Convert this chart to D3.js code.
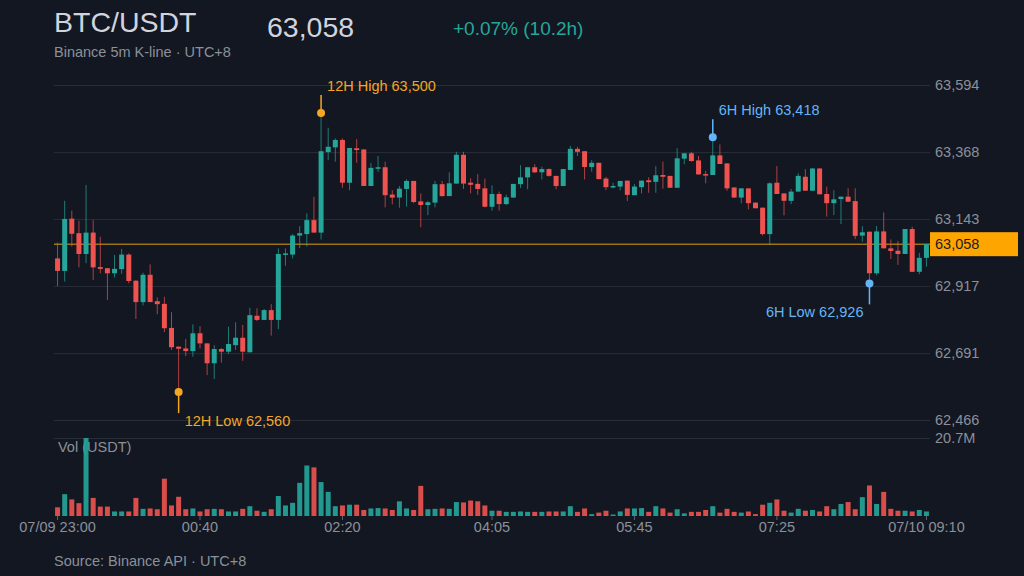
<!DOCTYPE html>
<html>
<head>
<meta charset="utf-8">
<script src="https://cdn.jsdelivr.net/npm/d3@7"></script>
<style>
  body { margin: 0; background: #131722; }
  svg text { font-family: "Liberation Sans", Arial, sans-serif; }
</style>
</head>
<body>
<div id="chart"></div>
<script>
var WD = 1024, HT = 576

// 5m candles, 07/09 23:00 -> 07/10 09:10 (UTC+8)
var open = [63010,62968,63144,63095,63025,63097,62981,62977,62960,62974,
  63023,62935,62863,62955,62866,62857,62776,62713,62707,62698,
  62758,62724,62657,62705,62696,62718,62743,62694,62817,62803,
  62836,62803,63022,63023,63087,63092,63139,63097,63368,63384,
  63409,63265,63381,63377,63254,63312,63317,63225,63215,63244,
  63271,63202,63190,63198,63260,63220,63262,63359,63265,63261,
  63246,63184,63227,63193,63215,63260,63283,63317,63300,63311,
  63288,63254,63308,63379,63371,63318,63332,63279,63250,63252,
  63272,63223,63250,63273,63268,63291,63288,63248,63346,63364,
  63340,63294,63291,63357,63330,63249,63215,63246,63198,63181,
  63092,63265,63229,63204,63235,63285,63238,63313,63227,63196,
  63210,63218,63203,63087,63100,62960,63101,63044,63036,63025,
  63109,62965,63012]
var high = [63063,63204,63171,63137,63257,63139,63083,62978,63022,63042,
  63027,62937,62962,62990,62879,62881,62829,62713,62739,62788,
  62782,62724,62718,62708,62780,62795,62786,62844,62842,62840,
  62856,63044,63044,63092,63119,63162,63218,63500,63450,63414,
  63414,63382,63412,63377,63332,63355,63336,63240,63254,63276,
  63271,63229,63203,63271,63271,63300,63369,63369,63280,63294,
  63279,63256,63235,63225,63261,63324,63317,63327,63319,63313,
  63288,63311,63389,63386,63371,63341,63332,63285,63265,63271,
  63272,63261,63272,63283,63321,63336,63288,63381,63364,63369,
  63355,63305,63418,63394,63330,63249,63246,63246,63198,63181,
  63266,63321,63229,63244,63297,63311,63313,63313,63252,63240,
  63218,63246,63246,63119,63100,63119,63165,63074,63069,63109,
  63117,63029,63058]
var low = [62917,62932,63050,62980,62994,62937,62960,62870,62946,62958,
  62926,62806,62852,62863,62822,62762,62702,62560,62681,62679,
  62707,62617,62604,62659,62688,62702,62665,62694,62799,62803,
  62750,62772,62985,63010,63045,63050,63097,63074,63341,63336,
  63248,63240,63332,63254,63254,63301,63182,63192,63181,63184,
  63196,63115,63156,63182,63218,63220,63262,63244,63229,63224,
  63182,63171,63171,63190,63215,63247,63243,63297,63276,63285,
  63243,63254,63308,63355,63276,63302,63277,63240,63246,63239,
  63203,63223,63229,63231,63231,63245,63248,63248,63327,63336,
  63292,63263,63291,63328,63238,63215,63196,63175,63179,63087,
  63055,63227,63155,63193,63235,63238,63238,63226,63151,63156,
  63126,63201,63075,63066,62926,62953,63044,63008,62988,63025,
  62965,62957,62982]
var close = [62968,63143,63093,63025,63097,62980,62975,62960,62975,63023,
  62934,62863,62955,62863,62856,62775,62711,62706,62698,62758,
  62724,62657,62705,62696,62722,62743,62696,62819,62803,62836,
  62803,63025,63027,63087,63095,63139,63097,63371,63386,63409,
  63265,63382,63375,63254,63315,63317,63223,63215,63245,63271,
  63200,63190,63199,63260,63220,63263,63359,63262,63258,63244,
  63184,63227,63193,63216,63261,63283,63317,63300,63311,63288,
  63254,63311,63379,63369,63318,63332,63277,63250,63254,63271,
  63224,63252,63272,63267,63290,63285,63248,63347,63364,63338,
  63293,63290,63357,63328,63246,63215,63246,63196,63179,63092,
  63263,63227,63204,63235,63288,63238,63313,63226,63196,63209,
  63218,63201,63086,63098,62960,63101,63044,63035,63025,63109,
  62965,63012,63058]
// volume in millions of USDT
var volume = [2.3,5.8,4.4,3.4,20.7,4.8,2.5,2.5,1.2,1.2,
  1.2,4.8,1.9,2.0,1.8,9.9,2.8,5.1,1.8,2.0,
  1.2,1.8,1.9,1.8,1.2,1.2,1.9,2.6,1.4,1.1,
  1.8,5.3,2.8,3.5,8.8,13.4,12.9,9.0,6.4,2.6,
  2.8,3.0,3.0,1.6,2.0,2.1,2.0,1.6,3.9,2.0,
  1.6,8.0,1.8,1.9,2.0,1.9,3.7,3.6,4.1,3.9,
  2.8,1.4,1.4,1.1,1.1,1.2,1.1,1.1,1.1,1.2,
  1.2,1.2,2.6,1.1,2.0,0.5,0.9,1.4,0.4,1.2,
  2.0,2.0,2.1,1.1,2.6,2.0,0.9,1.8,0.7,1.1,
  1.1,1.6,2.6,0.9,1.9,1.1,0.9,1.2,0.5,3.0,
  3.5,4.4,1.4,0.9,1.9,1.4,1.6,1.2,2.6,1.8,
  3.2,3.7,1.8,5.0,8.1,3.2,6.4,1.9,1.4,1.4,
  1.2,1.6,1.2]

var priceTicks = [62466, 62691, 62917, 63143, 63368, 63594]
var volMax = 20.7
var tickIdx = [0, 20, 40, 61, 81, 101, 122]
var tickLabels = ["07/09 23:00", "00:40", "02:20", "04:05", "05:45", "07:25", "07/10 09:10"]
var changeText = "+0.07% (10.2h)"

var UP = "#26a69a", DOWN = "#ef5350"
var ORANGE = "#f5a623", BLUE = "#64b5f6"
var GRID = "#282d38", MUTED = "#8b9099", LIGHT = "#d1d4dc"
var SMALL = "14.5px"

var n = open.length
var fmt = d3.format(",")

var svg = d3.select("#chart").append("svg")
    .attr("width", WD)
    .attr("height", HT)
    .style("background", "#131722")

var x = d3.scaleBand().domain(d3.range(n)).range([54, 930]).paddingInner(0.3).paddingOuter(0.15)
var y = d3.scaleLinear().domain([priceTicks[0], priceTicks[priceTicks.length - 1]]).range([420, 85])
var yVol = d3.scaleLinear().domain([0, volMax]).range([516, 438])
var bw = x.bandwidth()
function cx(i) { return x(i) + bw / 2 }
function col(i) { return close[i] >= open[i] ? UP : DOWN }

// header
svg.append("text").attr("x", 54).attr("y", 32).text("BTC/USDT")
    .attr("fill", LIGHT).style("font-size", "28.5px")
svg.append("text").attr("x", 267).attr("y", 37).text(fmt(close[n - 1]))
    .attr("fill", LIGHT).style("font-size", "28.5px")
svg.append("text").attr("x", 453).attr("y", 35).text(changeText)
    .attr("fill", UP).style("font-size", "19px")
svg.append("text").attr("x", 54).attr("y", 57).text("Binance 5m K-line · UTC+8")
    .attr("fill", MUTED).style("font-size", SMALL)
svg.append("text").attr("x", 54).attr("y", 566).text("Source: Binance API · UTC+8")
    .attr("fill", MUTED).style("font-size", SMALL)

// price axis + grid
var yAxis = svg.append("g").attr("transform", "translate(930,0)")
    .call(d3.axisRight(y).tickValues(priceTicks).tickFormat(fmt).tickSize(-876).tickPadding(5))
yAxis.select(".domain").remove()
yAxis.selectAll("line").attr("stroke", GRID)
yAxis.selectAll("text").attr("fill", MUTED).style("font-size", SMALL)

// volume axis
var vAxis = svg.append("g").attr("transform", "translate(930,0)")
    .call(d3.axisRight(yVol).tickValues([volMax]).tickFormat(function(d) { return d + "M" }).tickSize(-876).tickPadding(5))
vAxis.select(".domain").remove()
vAxis.selectAll("line").attr("stroke", GRID)
vAxis.selectAll("text").attr("fill", MUTED).style("font-size", SMALL)

// time axis
var xAxis = svg.append("g").attr("transform", "translate(0,516)")
    .call(d3.axisBottom(x).tickValues(tickIdx).tickFormat(function(d, i) { return tickLabels[i] }).tickSize(4).tickPadding(2))
xAxis.select(".domain").remove()
xAxis.selectAll("line").attr("stroke", "#5d6470")
xAxis.selectAll("text").attr("fill", MUTED).style("font-size", SMALL)

// last price line
var py = y(close[n - 1])
svg.append("line").attr("x1", 54).attr("x2", 930).attr("y1", py).attr("y2", py)
    .attr("stroke", "#e0a010").attr("stroke-width", 1)

// candles
var candles = svg.append("g")
candles.selectAll("line.wick")
  .data(d3.range(n))
  .enter().append("line")
    .attr("class", "wick")
    .attr("x1", cx).attr("x2", cx)
    .attr("y1", function(i) { return y(high[i]) })
    .attr("y2", function(i) { return y(low[i]) })
    .attr("stroke", col)
    .attr("stroke-opacity", 0.7)
    .attr("stroke-width", 1)
candles.selectAll("rect.body")
  .data(d3.range(n))
  .enter().append("rect")
    .attr("class", "body")
    .attr("x", function(i) { return x(i) })
    .attr("width", bw)
    .attr("y", function(i) { return y(Math.max(open[i], close[i])) })
    .attr("height", function(i) { return Math.max(1.5, Math.abs(y(open[i]) - y(close[i]))) })
    .attr("fill", col)

// volume
svg.append("text").attr("x", 58).attr("y", 452).text("Vol (USDT)")
    .attr("fill", MUTED).style("font-size", SMALL)
svg.append("g").selectAll("rect")
  .data(d3.range(n))
  .enter().append("rect")
    .attr("x", function(i) { return x(i) })
    .attr("width", bw)
    .attr("y", function(i) { return yVol(volume[i]) })
    .attr("height", function(i) { return yVol(0) - yVol(volume[i]) })
    .attr("fill", col)
    .attr("fill-opacity", 0.9)

// high / low markers
function mark(i, val, isHigh, label, color) {
  var mx = cx(i), my = y(val)
  var g = svg.append("g")
  g.append("line").attr("x1", mx).attr("x2", mx)
      .attr("y1", my).attr("y2", isHigh ? my - 18 : my + 21)
      .attr("stroke", color).attr("stroke-width", 1.5)
  g.append("circle").attr("cx", mx).attr("cy", my).attr("r", 4).attr("fill", color)
  var atRight = mx > 800
  g.append("text")
      .attr("x", atRight ? mx - 6 : mx + 6)
      .attr("y", isHigh ? my - 22 : my + 34)
      .attr("text-anchor", atRight ? "end" : "start")
      .attr("fill", color).style("font-size", SMALL)
      .text(label + " " + fmt(val))
}
var hi12 = d3.maxIndex(high), lo12 = d3.minIndex(low)
var off6 = n - 72
var hi6 = d3.maxIndex(high.slice(off6)) + off6, lo6 = d3.minIndex(low.slice(off6)) + off6
mark(hi12, high[hi12], true, "12H High", ORANGE)
mark(lo12, low[lo12], false, "12H Low", ORANGE)
mark(hi6, high[hi6], true, "6H High", BLUE)
mark(lo6, low[lo6], false, "6H Low", BLUE)

// last price tag
svg.append("rect").attr("x", 930).attr("y", py - 12).attr("width", 88).attr("height", 24)
    .attr("fill", "#ffa500")
svg.append("text").attr("x", 935).attr("y", py + 5).text(fmt(close[n - 1]))
    .attr("fill", "#1a1d24").style("font-size", SMALL)
</script>
</body>
</html>
